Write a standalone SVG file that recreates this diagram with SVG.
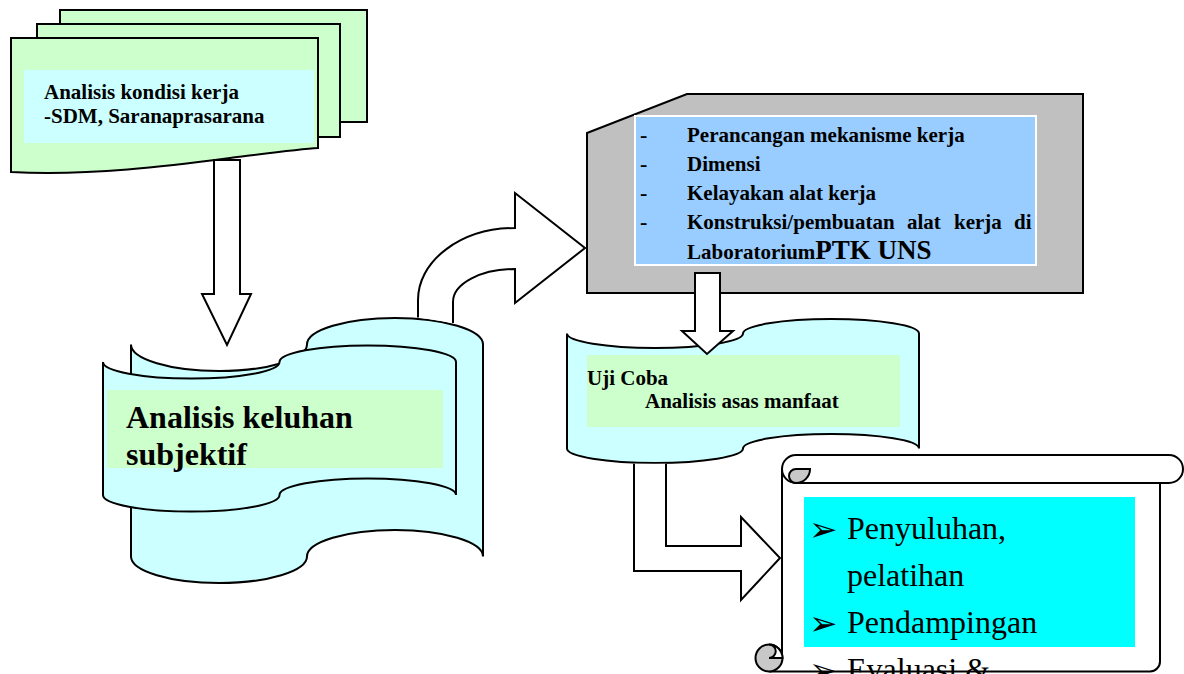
<svg xmlns="http://www.w3.org/2000/svg" width="1184" height="674" viewBox="0 0 1184 674">
<style>
.s{stroke:#000;stroke-width:2;stroke-linejoin:miter}
.g{fill:#CCFFCC}
.c{fill:#CCFFFF}
.w{fill:#fff}
.t{font-family:"Liberation Serif","Times New Roman",serif;font-weight:bold;fill:#000}
.r{font-family:"Liberation Serif","Times New Roman",serif;fill:#000}
.b{font-family:"DejaVu Sans",sans-serif;fill:#000}
</style>
<rect width="1184" height="674" fill="#fff"/>
<g id="doc-kondisi">
 <rect x="60" y="10" width="307" height="112" class="g s"/>
 <rect x="37" y="24" width="303" height="113" class="g s"/>
 <path d="M11,38 L318,38 L318,148 C300,149 270,153 230,158 C170,166 90,176 11,172 Z" class="g s"/>
 <rect x="24" y="70" width="290" height="73" class="c"/>
 <text class="t" font-size="21" x="44" y="99">Analisis kondisi kerja</text>
 <text class="t" font-size="21" x="44" y="123">-SDM, Saranaprasarana</text>
</g>
<g id="tape-keluhan">
 <path d="M131,344.5 A88 26.5 0 0 0 307,344.5 A88 26.5 0 0 1 483,344.5 L483,556.5 A88 26.5 0 0 0 307,556.5 A88 26.5 0 0 1 131,556.5 Z" class="c s"/>
 <path d="M103,362 A88.25 16.6 0 0 0 279.5,362 A88.25 16.6 0 0 1 456,362 L456,495 A88.25 16.6 0 0 0 279.5,495 A88.25 16.6 0 0 1 103,495 Z" class="c s"/>
 <rect x="107" y="390" width="336" height="78" class="g"/>
 <text class="t" font-size="32" x="126" y="428">Analisis keluhan</text>
 <text class="t" font-size="32" x="126" y="465">subjektif</text>
</g>
<g id="card-perancangan">
 <path d="M587,133 L687,94 L1083,94 L1083,293 L587,293 Z" fill="#C0C0C0" class="s"/>
 <rect x="635" y="116" width="401" height="149" fill="#99CCFF" stroke="#fff" stroke-width="2"/>
 <text class="t" font-size="22" x="640" y="142">-</text>
 <text class="t" font-size="21" x="687" y="142">Perancangan mekanisme kerja</text>
 <text class="t" font-size="22" x="640" y="171">-</text>
 <text class="t" font-size="21" x="687" y="171">Dimensi</text>
 <text class="t" font-size="22" x="640" y="200">-</text>
 <text class="t" font-size="21" x="687" y="200">Kelayakan alat kerja</text>
 <text class="t" font-size="22" x="640" y="229">-</text>
 <text class="t" font-size="21" y="229"><tspan x="687">Konstruksi/pembuatan</tspan><tspan x="907">alat</tspan><tspan x="954">kerja</tspan><tspan x="1014">di</tspan></text>
 <text class="t" font-size="21" x="687" y="259">Laboratorium<tspan font-size="27">PTK UNS</tspan></text>
</g>
<g id="tape-ujicoba">
 <path d="M567,333.5 A88 14.4 0 0 0 743,333.5 A88 14.4 0 0 1 919,333.5 L919,448.5 A88 14.4 0 0 0 743,448.5 A88 14.4 0 0 1 567,448.5 Z" class="c s"/>
 <rect x="587" y="355" width="313" height="72" class="g"/>
 <text class="t" font-size="21" x="587" y="385">Uji Coba</text>
 <text class="t" font-size="21" x="645" y="408">Analisis asas manfaat</text>
</g>
<g id="scroll-penyuluhan">
 <path d="M782,469 L1160,469 L1160,661 A10 10 0 0 1 1150,671.5 L769,671.5 L769,658 L782,658 Z" class="w"/>
 <path d="M782,469 L782,658 M769,671.5 L1150,671.5 A10 10 0 0 0 1160,661.5 L1160,483" fill="none" class="s"/>
 <path d="M796,455 L1169,455 A14 14 0 0 1 1169,483 L796,483 A14 14 0 0 1 796,455 Z" class="w s"/>
 <path d="M796,469 A7 7 0 0 0 796,483 A14 14 0 0 0 810,469 Z" fill="#C8C8C8" class="s"/>
 <circle cx="769" cy="658" r="13.5" fill="#C8C8C8" class="s"/>
 <path d="M769,644.5 A13.5 13.5 0 0 1 782.5,658 L769,658 A6.75 6.75 0 0 0 769,644.5 Z" class="w s"/>
 <rect x="804" y="497" width="331" height="150" fill="#00FFFF"/>
 <text class="b" font-size="34" x="809" y="541">➢</text>
 <text class="r" font-size="32" x="847" y="539">Penyuluhan,</text>
 <text class="r" font-size="32" x="847" y="586">pelatihan</text>
 <text class="b" font-size="34" x="809" y="635">➢</text>
 <text class="r" font-size="32" x="847" y="633">Pendampingan</text>
 <text class="b" font-size="34" x="809" y="682">➢</text>
 <text class="r" font-size="32" x="847" y="680">Evaluasi &amp;</text>
</g>
<g id="connectors">
 <path d="M214,160 L240,160 L240,294 L251,294 L227,345 L202,294 L214,294 Z" class="w s"/>
 <path d="M418,317.5 L418,300 A97 72 0 0 1 515,228 L515,193 L585,248 L515,303 L515,269 A62 33 0 0 0 453,302 L453,323" class="w s"/>
 <path d="M695,273 L720,273 L720,331 L733,331 L707,354 L682,331 L695,331 Z" class="w s"/>
 <path d="M634,463.8 L634,571 L741,571 L741,600 L780,558 L741,517 L741,546 L666,546 L666,463.8" class="w s"/>
</g>
</svg>
